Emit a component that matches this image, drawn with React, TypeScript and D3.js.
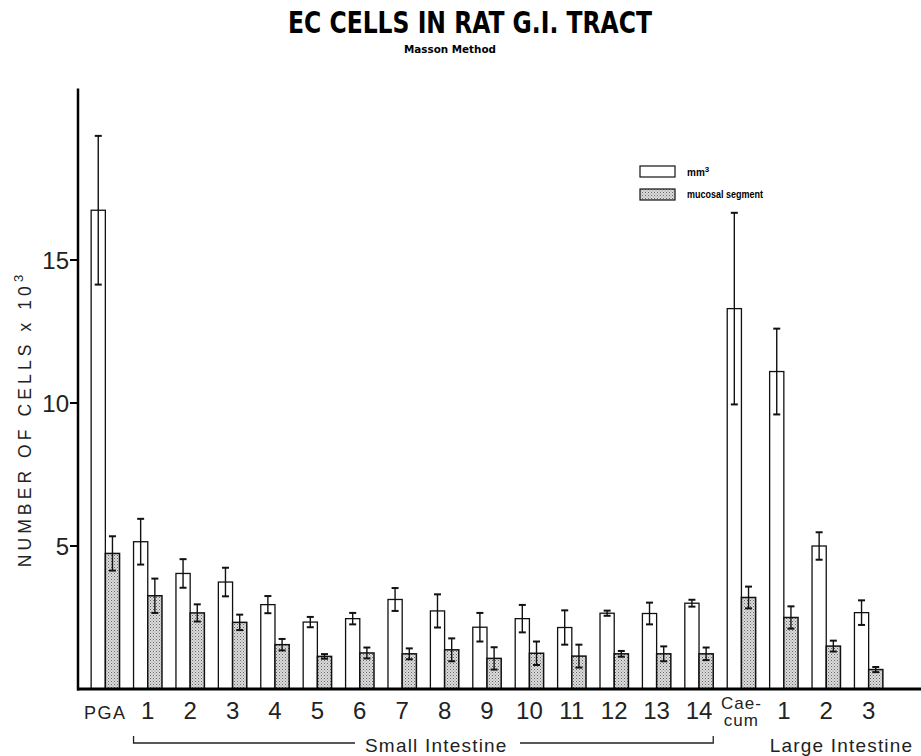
import React, { useRef, useEffect } from 'react';
import * as d3 from 'd3';

// segments along the tract
const categories = ['PGA', 'S1', 'S2', 'S3', 'S4', 'S5', 'S6', 'S7', 'S8', 'S9', 'S10', 'S11', 'S12', 'S13', 'S14', 'Caecum', 'L1', 'L2', 'L3'];
const tickLabels = ['PGA', '1', '2', '3', '4', '5', '6', '7', '8', '9', '10', '11', '12', '13', '14', 'Cae-|cum', '1', '2', '3'];

// cells per mm3 (x 10^3) and SEM
const mm3Values = [16.74, 5.15, 4.04, 3.74, 2.95, 2.34, 2.46, 3.13, 2.73, 2.16, 2.46, 2.15, 2.65, 2.64, 3.0, 13.3, 11.1, 5.0, 2.67];
const mm3Errors = [2.6, 0.8, 0.5, 0.5, 0.3, 0.18, 0.2, 0.4, 0.58, 0.5, 0.48, 0.6, 0.09, 0.38, 0.12, 3.35, 1.5, 0.48, 0.43];

// cells per mucosal segment (x 10^3) and SEM
const mucosalValues = [4.74, 3.26, 2.66, 2.33, 1.55, 1.14, 1.26, 1.23, 1.37, 1.07, 1.25, 1.15, 1.23, 1.23, 1.23, 3.2, 2.5, 1.5, 0.68];
const mucosalErrors = [0.6, 0.6, 0.3, 0.27, 0.2, 0.08, 0.19, 0.19, 0.4, 0.39, 0.41, 0.4, 0.1, 0.26, 0.22, 0.38, 0.39, 0.19, 0.09];

const yTicks = [5, 10, 15];

const sans = "'Liberation Sans', Arial, Helvetica, sans-serif";
const narrow = "'Liberation Sans Narrow', 'DejaVu Sans Condensed', sans-serif";

const App = () => {
    const svgRef = useRef(null);

    useEffect(() => {
        const svg = d3.select(svgRef.current);
        svg.selectAll('*').remove();

        const W = 921, H = 756;
        const axisX = 78, baseY = 689;

        const x = d3.scaleBand()
            .domain(categories)
            .range([axisX, 896])
            .paddingInner(0.33)
            .paddingOuter(0.31);
        const bw = x.bandwidth() / 2;

        const y = d3.scaleLinear().domain([0, 21]).range([baseY, baseY - 21 * 28.6]);

        // stipple pattern for the mucosal bars
        const defs = svg.append('defs');
        const pat = defs.append('pattern')
            .attr('id', 'stipple')
            .attr('patternUnits', 'userSpaceOnUse')
            .attr('width', 3).attr('height', 3);
        pat.append('rect').attr('width', 3).attr('height', 3).attr('fill', '#dcdcdc');
        pat.append('rect').attr('x', 0).attr('y', 0).attr('width', 1).attr('height', 1).attr('fill', '#666');
        pat.append('rect').attr('x', 1.5).attr('y', 1.5).attr('width', 1).attr('height', 1).attr('fill', '#8a8a8a');

        svg.append('rect').attr('width', W).attr('height', H).attr('fill', '#fff');

        // title
        svg.append('text')
            .attr('x', 470).attr('y', 33)
            .attr('text-anchor', 'middle')
            .attr('font-family', narrow)
            .attr('font-weight', 'bold')
            .attr('font-size', 30)
            .attr('textLength', 364)
            .attr('lengthAdjust', 'spacingAndGlyphs')
            .text('EC CELLS IN RAT G.I. TRACT');
        svg.append('text')
            .attr('x', 450).attr('y', 53)
            .attr('text-anchor', 'middle')
            .attr('font-family', narrow)
            .attr('font-weight', 900)
            .attr('font-size', 11)
            .attr('textLength', 92)
            .attr('lengthAdjust', 'spacingAndGlyphs')
            .text('Masson Method');

        const chart = svg.append('g');

        // white bars (mm3)
        chart.selectAll('.mm3')
            .data(categories)
            .join('rect')
            .attr('x', d => x(d))
            .attr('y', (d, i) => y(mm3Values[i]))
            .attr('width', bw)
            .attr('height', (d, i) => baseY - y(mm3Values[i]))
            .attr('fill', '#fff')
            .attr('stroke', '#111')
            .attr('stroke-width', 1.3);

        // stippled bars (mucosal segment)
        chart.selectAll('.muc')
            .data(categories)
            .join('rect')
            .attr('x', d => x(d) + bw)
            .attr('y', (d, i) => y(mucosalValues[i]))
            .attr('width', bw)
            .attr('height', (d, i) => baseY - y(mucosalValues[i]))
            .attr('fill', 'url(#stipple)')
            .attr('stroke', '#111')
            .attr('stroke-width', 1.5);

        // error bars
        const drawErr = (vals, errs, off) => {
            categories.forEach((c, i) => {
                const cx = x(c) + off + bw / 2;
                const y1 = y(vals[i] + errs[i]);
                const y2 = y(vals[i] - errs[i]);
                const g = chart.append('g').attr('stroke', '#111');
                g.append('line').attr('x1', cx).attr('x2', cx).attr('y1', y1).attr('y2', y2).attr('stroke-width', 1.4);
                g.append('line').attr('x1', cx - 3.5).attr('x2', cx + 3.5).attr('y1', y1).attr('y2', y1).attr('stroke-width', 2);
                g.append('line').attr('x1', cx - 3.5).attr('x2', cx + 3.5).attr('y1', y2).attr('y2', y2).attr('stroke-width', 2);
            });
        };
        drawErr(mm3Values, mm3Errors, 0);
        drawErr(mucosalValues, mucosalErrors, bw);

        // axes
        svg.append('line')
            .attr('x1', axisX).attr('x2', axisX)
            .attr('y1', y(21)).attr('y2', baseY + 1.5)
            .attr('stroke', '#000').attr('stroke-width', 2.5);
        svg.append('line')
            .attr('x1', axisX - 1).attr('x2', W)
            .attr('y1', baseY).attr('y2', baseY)
            .attr('stroke', '#000').attr('stroke-width', 3);

        const yt = svg.append('g');
        yTicks.forEach(t => {
            yt.append('line')
                .attr('x1', axisX - 8).attr('x2', axisX)
                .attr('y1', y(t)).attr('y2', y(t))
                .attr('stroke', '#000').attr('stroke-width', 2);
            yt.append('text')
                .attr('x', axisX - 9).attr('y', y(t) + 8.5)
                .attr('text-anchor', 'end')
                .attr('font-family', sans)
                .attr('font-size', 24)
                .attr('fill', '#222')
                .text(t);
        });

        // y label
        const yl = svg.append('text')
            .attr('transform', 'translate(31,419) rotate(-90)')
            .attr('text-anchor', 'middle')
            .attr('font-family', sans)
            .attr('font-size', 17.5)
            .attr('letter-spacing', 4.1)
            .attr('fill', '#222');
        yl.append('tspan').text('NUMBER OF CELLS x 10');
        yl.append('tspan').attr('dy', -8).attr('font-size', 13).text('3');

        // x tick labels
        categories.forEach((c, i) => {
            const cx = x(c) + bw;
            const lab = tickLabels[i];
            if (lab.includes('|')) {
                lab.split('|').forEach((p, j) => {
                    svg.append('text')
                        .attr('x', cx).attr('y', 709 + j * 17)
                        .attr('text-anchor', 'middle')
                        .attr('font-family', sans)
                        .attr('font-size', 17)
                        .attr('letter-spacing', 1)
                        .attr('fill', '#222')
                        .text(p);
                });
            } else {
                const isWord = isNaN(+lab);
                svg.append('text')
                    .attr('x', cx).attr('y', 719)
                    .attr('text-anchor', 'middle')
                    .attr('font-family', sans)
                    .attr('font-size', isWord ? 18 : 24)
                    .attr('letter-spacing', isWord ? 1.5 : 0)
                    .attr('fill', '#222')
                    .text(lab);
            }
        });

        // group brackets
        const siL = x('S1');
        const siR = x('S14') + x.bandwidth();
        const br = svg.append('g').attr('stroke', '#222').attr('stroke-width', 1.3).attr('fill', 'none');
        br.append('path').attr('d', `M${siL},736 V743 H355`);
        br.append('path').attr('d', `M520,743 H${siR} V736`);
        svg.append('text')
            .attr('x', 365).attr('y', 752)
            .attr('font-family', sans)
            .attr('font-size', 19)
            .attr('letter-spacing', 1.2)
            .attr('fill', '#222')
            .text('Small Intestine');
        svg.append('text')
            .attr('x', x('L1')).attr('y', 752)
            .attr('font-family', sans)
            .attr('font-size', 19)
            .attr('letter-spacing', 1.2)
            .attr('fill', '#222')
            .text('Large Intestine');

        // legend
        const lg = svg.append('g').attr('font-family', sans).attr('font-weight', 'bold').attr('font-size', 10);
        lg.append('rect').attr('x', 640).attr('y', 166).attr('width', 35).attr('height', 11)
            .attr('fill', '#fff').attr('stroke', '#111').attr('stroke-width', 1.2);
        const t1 = lg.append('text').attr('x', 687).attr('y', 176);
        t1.append('tspan').text('mm');
        t1.append('tspan').attr('dy', -4).attr('font-size', 8).text('3');
        lg.append('rect').attr('x', 640).attr('y', 189).attr('width', 35).attr('height', 11)
            .attr('fill', 'url(#stipple)').attr('stroke', '#111').attr('stroke-width', 1.2);
        lg.append('text').attr('x', 687).attr('y', 198)
            .attr('textLength', 76).attr('lengthAdjust', 'spacingAndGlyphs')
            .text('mucosal segment');
    }, []);

    return (
        <svg ref={svgRef} width="921" height="756" style={{ position: 'absolute', left: 0, top: 0 }}></svg>
    );
};

export default App;
